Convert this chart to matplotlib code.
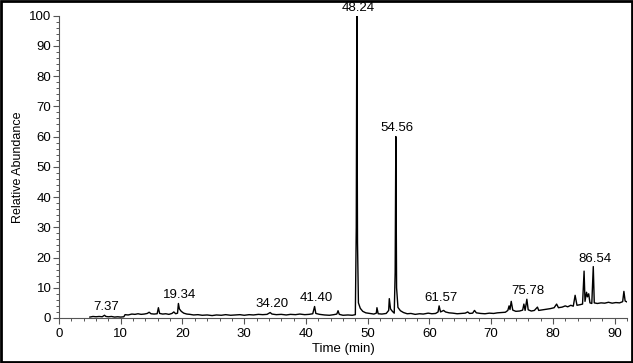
import matplotlib
matplotlib.use("Agg")
from matplotlib import pyplot as plt
from matplotlib.patches import Rectangle
from matplotlib.ticker import MultipleLocator

plt.rcParams['font.family'] = ['Liberation Sans', 'DejaVu Sans']

# retention time (min) and relative abundance
times = [5.0, 5.5, 6.0, 6.5, 7.0, 7.37, 7.6, 8.0, 8.5, 9.0, 9.5, 10.0, 10.5,
         10.7, 11.2, 11.8, 12.3, 12.8, 13.3, 13.8, 14.3, 14.6, 14.9, 15.4, 15.9,
         16.1, 16.3, 16.8, 17.3, 17.8, 18.3, 18.6, 18.9, 19.2, 19.34, 19.5, 19.8,
         20.2, 20.7, 21.2, 21.8, 22.5, 23.2, 24.0, 24.8, 25.5, 26.3, 27.0, 27.8,
         28.5, 29.3, 30.0, 30.8, 31.5, 32.3, 33.0, 33.7, 34.2, 34.5, 35.2, 36.0,
         36.8, 37.5, 38.3, 39.0, 39.8, 40.5, 41.1, 41.4, 41.6, 42.2, 43.0, 43.8,
         44.5, 45.0, 45.2, 45.4, 46.0, 46.8, 47.5, 48.0, 48.15, 48.24, 48.35,
         48.5, 48.8, 49.2, 49.7, 50.3, 51.0, 51.4, 51.5, 51.7, 52.3, 53.0, 53.4,
         53.5, 53.7, 54.0, 54.3, 54.45, 54.56, 54.68, 54.9, 55.3, 55.8, 56.4,
         57.0, 57.7, 58.4, 59.0, 59.8, 60.4, 61.0, 61.4, 61.57, 61.8, 62.3, 62.6,
         63.2, 63.8, 64.5, 65.2, 65.8, 66.2, 66.5, 67.0, 67.3, 67.6, 68.3, 69.0,
         69.7, 70.4, 71.0, 71.7, 72.3, 72.7, 72.9, 73.05, 73.25, 73.5, 74.0,
         74.6, 75.1, 75.3, 75.5, 75.78, 76.0, 76.5, 77.0, 77.5, 77.7, 78.3, 79.0,
         79.6, 80.2, 80.6, 80.9, 81.5, 82.0, 82.4, 82.9, 83.3, 83.6, 83.9, 84.4,
         84.8, 85.05, 85.2, 85.45, 85.6, 85.8, 86.0, 86.3, 86.54, 86.7, 87.2,
         87.8, 88.4, 89.0, 89.6, 90.2, 90.8, 91.3, 91.5, 91.7, 92.0]
abundance = [0.3, 0.5, 0.4, 0.5, 0.4, 0.9, 0.5, 0.4, 0.5, 0.3, 0.4, 0.3, 0.4,
             1.1, 1.0, 1.3, 1.2, 1.4, 1.2, 1.3, 1.5, 1.9, 1.4, 1.3, 1.4,
             3.4, 1.5, 1.3, 1.4, 1.2, 1.5, 2.0, 1.4, 1.6, 4.8, 3.0, 2.2,
             1.6, 1.3, 1.2, 1.0, 1.1, 0.9, 1.0, 0.8, 1.0, 0.9, 1.1, 0.9,
             1.0, 1.1, 0.9, 1.1, 1.0, 1.2, 1.1, 1.2, 1.8, 1.3, 1.1, 1.2,
             1.0, 1.2, 1.1, 1.3, 1.1, 1.2, 1.4, 3.8, 1.5, 1.2, 1.0, 0.9,
             1.1, 1.3, 2.4, 1.2, 0.9, 1.0, 0.9, 1.1, 30, 100, 25,
             5.0, 3.2, 2.2, 1.7, 1.5, 1.3, 1.6, 3.4, 1.4, 1.3, 1.5, 2.5,
             6.4, 3.0, 2.2, 1.6, 15, 60, 10, 3.5, 2.4, 1.8, 1.4,
             1.5, 1.2, 1.4, 1.3, 1.6, 1.4, 1.5, 2.0, 4.0, 2.0, 2.5, 2.0,
             1.7, 1.6, 1.4, 1.5, 1.6, 2.0, 1.5, 1.6, 2.5, 1.7, 1.5, 1.4,
             1.6, 1.5, 1.7, 1.8, 1.9, 2.5, 4.0, 2.8, 5.5, 2.6, 2.2,
             2.3, 2.6, 4.6, 2.5, 6.2, 2.7, 2.3, 2.5, 3.6, 2.5, 2.7, 2.9,
             3.1, 3.4, 4.6, 3.4, 3.6, 4.0, 3.7, 4.2, 3.9, 7.5, 4.2, 4.4,
             4.6, 15.5, 5.5, 8.5, 7.0, 8.0, 5.0, 4.8, 17.0, 5.0, 4.8,
             5.0, 4.9, 5.2, 4.9, 5.1, 5.0, 5.4, 8.8, 5.6, 5.3]

# labelled peaks
peak_labels = ['7.37', '19.34', '34.20', '41.40', '48.24', '54.56', '61.57', '75.78', '86.54']


fig = plt.figure(figsize=(6.33, 3.63), dpi=100)
ax = fig.add_axes([0.0932, 0.124, 0.8973, 0.833])

ax.plot(times, abundance, color='black', lw=1.0)

for lab in peak_labels:
    t = float(lab)
    # apex = highest point near the labelled retention time
    top = max(a for tt, a in zip(times, abundance) if abs(tt - t) < 0.3)
    ax.annotate(lab, xy=(t, top), xytext=(1, 1.5), textcoords='offset points',
                ha='center', va='bottom', fontsize=9.5, annotation_clip=False)

ax.set_xlim(0, 92)
ax.set_ylim(0, 100)
ax.spines['top'].set_visible(False)
ax.spines['right'].set_visible(False)
ax.spines['left'].set_color('#555555')
ax.spines['bottom'].set_color('#555555')

ax.xaxis.set_major_locator(MultipleLocator(10))
ax.xaxis.set_minor_locator(MultipleLocator(2))
ax.yaxis.set_major_locator(MultipleLocator(10))
ax.yaxis.set_minor_locator(MultipleLocator(2))
ax.tick_params(which='major', length=4.5, width=0.8, color='#555555', labelsize=9.5)
ax.tick_params(axis='y', which='major', pad=1)
ax.tick_params(axis='x', which='major', pad=3)
ax.tick_params(which='minor', length=2.5, width=0.7, color='#555555')

ax.set_xlabel('Time (min)', fontsize=9.5, labelpad=2)
ax.set_ylabel('Relative Abundance', fontsize=9, labelpad=4)

# black frame around the picture
fig.patches.append(Rectangle((0.002, 0.003), 0.996, 0.994, transform=fig.transFigure,
                             fill=False, edgecolor='black', lw=2))

plt.savefig('out.png', dpi=100)
